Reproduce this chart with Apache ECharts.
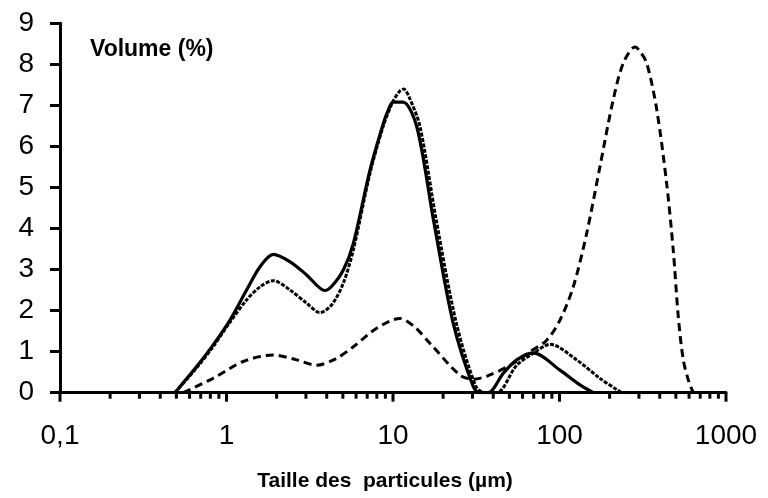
<!DOCTYPE html>
<html>
<head>
<meta charset="utf-8">
<script src="https://cdn.jsdelivr.net/npm/echarts@6/dist/echarts.min.js"></script>
<style>
html,body{margin:0;padding:0;background:#fff;}
#c{width:768px;height:498px;}
</style>
</head>
<body>
<div id="c"></div>
<script>
// Particle size (µm) and volume (%)
const xSolid  = [0.49,0.66,0.83,1.05,1.32,1.59,1.91,2.41,3.03,3.9,4.3,5.03,5.78,7.28,8.75,9.4,10.0,11.5,13.9,17.5,23.0,30.3,33,37.3,45.9,55.3,69.7,100.7,132.7,160];
const ySolid  = [0,0.63,1.16,1.77,2.5,3.07,3.37,3.19,2.87,2.49,2.6,2.99,3.64,5.43,6.56,6.9,7.08,7.08,6.48,4.21,1.69,0.15,0,0,0.47,0.80,0.97,0.55,0.19,0];

const xDotted = [0.49,0.66,0.83,1.05,1.32,1.59,1.91,2.41,3.03,3.64,4.3,5.03,5.78,7.28,8.75,10.0,11.0,11.6,12.5,14.5,18.2,24,31.5,35.7,42,55.3,69.7,87.7,126.7,175,220,240,300,400,500,630];
const yDotted = [0,0.6,1.12,1.72,2.26,2.58,2.73,2.5,2.18,1.95,2.15,2.67,3.48,5.35,6.5,7.1,7.35,7.4,7.2,6.5,4.2,1.7,0.15,0,0,0.67,0.96,1.18,0.8,0.35,0.08,0,0,0,0,0];

const xDashed = [0.55,0.83,1.26,1.91,2.64,3.48,4.5,5.78,7.98,11.0,13.5,16.7,25.2,30.3,36.5,50.5,66.5,83.8,100.7,121,145.6,175,210,241.7,284,300,334,384,440,482,517,554,600,637];
const yDashed = [0,0.35,0.76,0.92,0.8,0.67,0.82,1.12,1.57,1.81,1.6,1.2,0.43,0.33,0.4,0.67,1.0,1.28,1.77,2.58,3.88,5.51,7.13,8.03,8.42,8.35,8.03,6.89,5.1,3.48,1.85,0.8,0.25,0];

const xTickValues = [0.1,1,10,100,1000];
const xTickLabels = ['0,1','1','10','100','1000'];
const xMinorTicks = [0.2,0.3,0.4,0.5,0.6,0.7,0.8,0.9,2,3,4,5,6,7,8,9,20,30,40,50,60,70,80,90,200,300,400,500,600,700,800,900];

const yMin = 0, yMax = 9, yStep = 1;
const yAxisTitle = 'Volume (%)';
const xAxisTitle = 'Taille des  particules (µm)';

function zip(xs, ys){ return xs.map((x,i)=>[x, ys[i]]); }

const FONT = '"Liberation Sans", Arial, sans-serif';
const chart = echarts.init(document.getElementById('c'), null, {renderer:'canvas'});

function tickSeries(values, len){
  return {
    type:'custom', data:values.map(v=>[v]), encode:{x:0}, clip:false, silent:true, z:10,
    renderItem:function(params, api){
      const p = api.coord([api.value(0), yMin]);
      return {type:'line', shape:{x1:p[0], y1:p[1], x2:p[0], y2:p[1]+len},
        style:{stroke:'#000', lineWidth:3}};
    }
  };
}

const option = {
  animation:false,
  backgroundColor:'#fff',
  title:{
    text:yAxisTitle, left:90, top:38, padding:0,
    textStyle:{fontFamily:FONT, fontSize:23, fontWeight:'bold', color:'#000'}
  },
  grid:{left:60, right:42, top:23.3, bottom:105.3, containLabel:false},
  xAxis:{
    type:'log', logBase:10, min:xTickValues[0], max:xTickValues[xTickValues.length-1],
    name:xAxisTitle, nameLocation:'middle', nameGap:78,
    nameTextStyle:{fontFamily:FONT, fontSize:21, fontWeight:'bold', color:'#000', padding:[0,16,0,0]},
    axisLine:{show:true, onZero:false, lineStyle:{color:'#000', width:3}},
    axisTick:{show:false},
    axisLabel:{show:true, margin:30, fontFamily:FONT, fontSize:28, color:'#000',
      formatter:function(v){ const i = xTickValues.findIndex(t=>Math.abs(Math.log10(t)-Math.log10(v))<1e-6); return i>=0?xTickLabels[i]:''; }},
    splitLine:{show:false}, minorTick:{show:false}, minorSplitLine:{show:false}
  },
  yAxis:{
    type:'value', min:yMin, max:yMax, interval:yStep,
    axisLine:{show:true, onZero:false, lineStyle:{color:'#000', width:3}},
    axisTick:{show:true, inside:false, length:10, lineStyle:{color:'#000', width:3}},
    axisLabel:{margin:26, fontFamily:FONT, fontSize:28, color:'#000'},
    splitLine:{show:false}
  },
  series:[
    {name:'dashed', type:'line', data:zip(xDashed,yDashed), symbol:'none', smooth:0.3, z:2,
      lineStyle:{color:'#000', width:3, type:[8,5]}},
    {name:'dotted', type:'line', data:zip(xDotted,yDotted), symbol:'none', smooth:0.3, z:3,
      lineStyle:{color:'#000', width:3, type:[4,1.5]}},
    {name:'solid', type:'line', data:zip(xSolid,ySolid), symbol:'none', smooth:0.3, z:4,
      lineStyle:{color:'#000', width:3.2, type:'solid'}},
    tickSeries(xTickValues, 9),
    tickSeries(xMinorTicks, 6)
  ]
};
chart.setOption(option);
</script>
</body>
</html>
